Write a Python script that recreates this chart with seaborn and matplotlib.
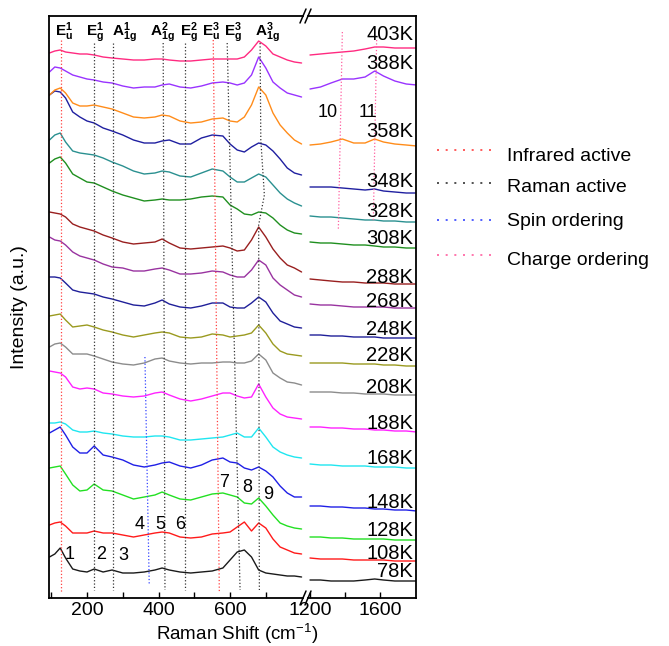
import numpy as np
import pandas as pd
import matplotlib
matplotlib.use("Agg")
import matplotlib.pyplot as plt
import seaborn as sns
from matplotlib.lines import Line2D

sns.set_theme(style="white")
plt.rcParams['font.family'] = ['Liberation Sans', 'DejaVu Sans']
plt.rcParams['mathtext.fontset'] = 'custom'
plt.rcParams['mathtext.rm'] = 'Liberation Sans'
plt.rcParams['mathtext.it'] = 'Liberation Sans:italic'
plt.rcParams['mathtext.bf'] = 'Liberation Sans:bold'
plt.rcParams['text.color'] = 'black'
plt.rcParams['axes.labelcolor'] = 'black'
plt.rcParams['xtick.color'] = 'black'
plt.rcParams['ytick.color'] = 'black'

# ---------------- data ----------------
temps = ['78K', '108K', '128K', '148K', '168K', '188K', '208K', '228K', '248K',
         '268K', '288K', '308K', '328K', '348K', '358K', '388K', '403K']
colors = ['#1a1a1a', '#ff1a1a', '#22e022', '#1f1fe6', '#1fe6f0', '#ff22ff', '#8c8c8c',
          '#9a9a1f', '#1f1f99', '#9933a0', '#991f1f', '#1f8f1f', '#2a9090', '#1f1fa0',
          '#ff8c1a', '#9933ff', '#ff2a80']

shift_low = [95, 110, 125, 140, 160, 180, 200, 220, 245, 270, 300, 330, 360, 390, 410, 430,
             460, 490, 520, 550, 580, 600, 620, 640, 660, 680, 700, 720, 740, 760, 780, 800]
shift_high = [1200, 1260, 1320, 1385, 1450, 1515, 1570, 1620, 1685, 1750, 1810]

low_78 = [89, 92, 98, 88, 77, 75, 74, 77, 74, 76, 73, 73, 74, 76, 78, 76, 74, 73, 74, 75, 78, 86, 94, 96, 89, 76, 73, 72, 71, 70, 70, 69]
low_108 = [121, 123, 124, 120, 113, 113, 113, 115, 113, 113, 111, 109, 111, 113, 114, 113, 109, 108, 109, 112, 113, 114, 119, 124, 115, 123, 118, 107, 99, 96, 93, 92]
low_128 = [178, 179, 180, 172, 161, 155, 156, 162, 156, 155, 151, 147, 149, 151, 154, 151, 147, 146, 149, 152, 153, 151, 149, 143, 142, 148, 140, 131, 123, 120, 118, 117]
low_148 = [213, 216, 219, 211, 199, 193, 193, 200, 191, 189, 186, 181, 179, 181, 183, 184, 180, 178, 181, 186, 188, 184, 183, 178, 176, 179, 175, 169, 160, 153, 149, 149]
low_168 = [223, 223, 224, 222, 216, 214, 214, 215, 213, 212, 210, 209, 209, 210, 210, 209, 206, 206, 207, 208, 209, 211, 213, 209, 209, 218, 209, 199, 194, 191, 189, 188]
low_188 = [275, 274, 273, 269, 259, 257, 258, 257, 253, 252, 250, 249, 250, 253, 254, 251, 247, 245, 247, 250, 253, 253, 250, 248, 249, 262, 249, 238, 232, 229, 228, 227]
low_208 = [299, 302, 303, 299, 292, 292, 292, 290, 287, 284, 282, 281, 283, 287, 288, 285, 283, 282, 283, 283, 284, 284, 283, 283, 285, 292, 286, 273, 268, 264, 263, 261]
low_228 = [330, 331, 332, 326, 319, 320, 321, 319, 316, 314, 311, 309, 311, 313, 314, 313, 309, 308, 309, 312, 311, 309, 310, 311, 313, 321, 313, 302, 295, 292, 291, 290]
low_248 = [369, 369, 368, 363, 356, 354, 353, 352, 349, 347, 344, 341, 340, 343, 346, 342, 339, 338, 340, 343, 343, 339, 338, 338, 343, 349, 344, 333, 325, 322, 319, 318]
low_268 = [409, 406, 405, 401, 394, 390, 388, 386, 382, 379, 378, 375, 375, 377, 378, 376, 372, 372, 373, 375, 374, 371, 369, 369, 376, 386, 381, 368, 361, 356, 351, 349]
low_288 = [434, 433, 432, 429, 422, 419, 417, 415, 411, 408, 404, 402, 403, 404, 407, 403, 398, 397, 398, 399, 400, 398, 395, 396, 406, 419, 409, 397, 388, 381, 378, 374]
low_308 = [483, 487, 489, 483, 472, 468, 464, 463, 459, 455, 451, 448, 445, 446, 447, 446, 446, 447, 449, 450, 449, 441, 437, 432, 431, 434, 433, 428, 421, 416, 413, 412]
low_328 = [506, 511, 513, 504, 495, 493, 492, 491, 488, 484, 480, 475, 472, 473, 475, 474, 470, 469, 473, 477, 475, 469, 464, 464, 468, 472, 469, 461, 453, 447, 443, 440]
low_348 = [551, 555, 554, 548, 534, 529, 525, 523, 518, 515, 511, 506, 503, 503, 505, 506, 502, 502, 508, 511, 510, 502, 496, 494, 499, 503, 501, 495, 487, 478, 473, 471]
low_358 = [551, 556, 558, 553, 543, 540, 540, 541, 539, 537, 533, 529, 528, 529, 531, 530, 525, 523, 524, 527, 528, 525, 524, 529, 541, 559, 551, 533, 521, 513, 506, 502]
low_388 = [574, 579, 578, 575, 571, 569, 567, 566, 564, 563, 560, 558, 559, 559, 561, 562, 559, 558, 560, 563, 564, 563, 561, 563, 571, 589, 578, 564, 558, 553, 551, 549]
low_403 = [593, 595, 596, 594, 593, 592, 592, 591, 589, 588, 587, 586, 586, 587, 587, 586, 585, 585, 586, 587, 587, 587, 587, 589, 596, 605, 600, 592, 589, 586, 584, 583]

high_78 = [66, 66, 65, 65, 65, 66, 67, 66, 65, 65, 65]
high_108 = [88, 87, 87, 87, 86, 86, 86, 86, 85, 85, 85]
high_128 = [109, 109, 108, 108, 107, 107, 107, 107, 106, 106, 106]
high_148 = [140, 140, 139, 139, 138, 138, 137, 137, 136, 136, 135]
high_168 = [182, 181, 181, 180, 180, 180, 179, 179, 179, 178, 178]
high_188 = [219, 219, 218, 218, 217, 217, 216, 216, 215, 215, 214]
high_208 = [254, 254, 254, 253, 253, 252, 252, 252, 251, 251, 251]
high_228 = [283, 283, 283, 283, 282, 282, 282, 281, 281, 280, 280]
high_248 = [311, 311, 310, 310, 309, 309, 309, 308, 308, 308, 308]
high_268 = [342, 341, 341, 340, 339, 339, 339, 339, 338, 338, 338]
high_288 = [367, 366, 365, 364, 364, 363, 363, 363, 362, 362, 362]
high_308 = [404, 403, 403, 402, 401, 401, 400, 399, 399, 398, 398]
high_328 = [430, 429, 429, 428, 427, 426, 426, 425, 425, 424, 424]
high_348 = [459, 459, 459, 458, 457, 456, 457, 455, 454, 453, 453]
high_358 = [501, 502, 504, 507, 503, 503, 507, 504, 502, 501, 500]
high_388 = [557, 559, 563, 567, 567, 569, 575, 570, 565, 562, 561]
high_403 = [591, 592, 593, 594, 595, 597, 599, 599, 598, 598, 598]

# temperature label baselines (same units as intensity)
label_y = [69, 87, 110, 138, 182, 217, 253, 285, 311, 339, 363, 402, 429, 459, 509, 577, 606]

# assigned modes (top label position / line x at top and bottom)
mode_labels = [r'$\mathbf{E_u^1}$', r'$\mathbf{E_g^1}$', r'$\mathbf{A_{1g}^1}$', r'$\mathbf{A_{1g}^2}$',
               r'$\mathbf{E_g^2}$', r'$\mathbf{E_u^3}$', r'$\mathbf{E_g^3}$', r'$\mathbf{A_{1g}^3}$']
mode_label_x = [135, 222, 306, 411, 485, 548, 607, 705]

infrared_top = [126, 553]
infrared_bot = [126, 570]
raman_top = [220, 274, 413, 474, 592]
raman_bot = [220, 274, 418, 474, 628]
a1g3_x = [684, 686, 696, 680, 682]
a1g3_y = [603, 506, 451, 421, 56]
spin_x = [362, 374]
spin_y = [289, 61]
charge_top = [1385, 1581]
charge_bot = [1362, 1562]

peak_names = ['1', '2', '3', '4', '5', '6', '7', '8', '9']
peak_x = [150, 239, 301, 348, 404, 460, 583, 648, 706]
peak_y = [87, 87, 86, 117, 117, 117, 159, 154, 147]
peak_names_hi = ['10', '11']
peak_x_hi = [1303, 1531]
peak_y_hi = [529, 529]

# ---------------- frames ----------------
low_series = [low_78, low_108, low_128, low_148, low_168, low_188, low_208, low_228, low_248,
              low_268, low_288, low_308, low_328, low_348, low_358, low_388, low_403]
high_series = [high_78, high_108, high_128, high_148, high_168, high_188, high_208, high_228,
               high_248, high_268, high_288, high_308, high_328, high_348, high_358, high_388, high_403]

df_low = pd.DataFrame({'shift': np.tile(shift_low, len(temps)),
                       'intensity': np.concatenate(low_series),
                       'T': np.repeat(temps, len(shift_low))})
df_high = pd.DataFrame({'shift': np.tile(shift_high, len(temps)),
                        'intensity': np.concatenate(high_series),
                        'T': np.repeat(temps, len(shift_high))})
palette = dict(zip(temps, colors))

W, H = 669, 646
fig = plt.figure(figsize=(W / 100, H / 100), dpi=100)
ax1 = fig.add_axes([49 / W, 48 / H, 254 / W, 582 / H])
ax2 = fig.add_axes([308 / W, 48 / H, 108 / W, 582 / H])

sns.lineplot(data=df_low, x='shift', y='intensity', hue='T', palette=palette, estimator=None,
             sort=False, legend=False, lw=1.0, ax=ax1)
sns.lineplot(data=df_high, x='shift', y='intensity', hue='T', palette=palette, estimator=None,
             sort=False, legend=False, lw=1.0, ax=ax2)

for ax in (ax1, ax2):
    ax.set_ylim(48, 630)
    ax.set_yticks([])
    ax.set_xlabel('')
    ax.set_ylabel('')
    for sp in ax.spines.values():
        sp.set_color('black')
        sp.set_linewidth(1.3)
    ax.tick_params(axis='x', which='both', direction='in', bottom=True, top=False,
                   length=4, width=1, color='black', labelcolor='black', labelsize=14, pad=3)
ax1.spines['right'].set_visible(False)
ax2.spines['left'].set_visible(False)

ax1.set_xlim(93.7, 804)
ax2.set_xlim(1188.6, 1806)
ax1.set_xticks([200, 400, 600])
ax1.set_xticks([100, 300, 500, 700], minor=True)
ax2.set_xticks([1200, 1600])
ax2.set_xticks([1400], minor=True)

# mode lines
dot = dict(ls=':', lw=0.9)
for xt, xb in zip(infrared_top, infrared_bot):
    ax1.plot([xt, xb], [606, 53], color='#ff4040', **dot)
for xt, xb in zip(raman_top, raman_bot):
    ax1.plot([xt, xb], [603, 56], color='#333333', **dot)
ax1.plot(a1g3_x, a1g3_y, color='#333333', **dot)
ax1.plot(spin_x, spin_y, color='#3344ff', **dot)
ax2.plot([charge_top[0], charge_bot[0]], [614, 416], color='#ff5fa0', **dot)
ax2.plot([charge_top[1], charge_bot[1]], [606, 424], color='#ff5fa0', **dot)

for lab, x in zip(mode_labels, mode_label_x):
    ax1.text(x, 610, lab, ha='center', va='baseline', fontsize=11, color='black')

for t, y in zip(temps, label_y):
    ax2.text(1789, y, t, ha='right', va='baseline', fontsize=14.5, color='black')

for n, x, y in zip(peak_names, peak_x, peak_y):
    ax1.text(x, y, n, ha='center', va='baseline', fontsize=13, color='black')
for n, x, y in zip(peak_names_hi, peak_x_hi, peak_y_hi):
    ax2.text(x, y, n, ha='center', va='baseline', fontsize=13, color='black')

# axis labels
fig.text(156 / W, (H - 640) / H, r'Raman Shift (cm$^{-1}$)', ha='left', va='baseline',
         fontsize=13.5, color='black')
fig.text(20 / W, (H - 307) / H, 'Intensity (a.u.)', rotation=90, ha='center', va='center',
         fontsize=14, color='black')

# axis break marks
def fl(x0, y0, x1, y1, **kw):
    fig.add_artist(Line2D([x0 / W, x1 / W], [(H - y0) / H, (H - y1) / H], **kw))

for yb in (16, 598):
    fl(300, yb + 7, 306, yb - 7, color='black', lw=1.1)
    fl(305, yb + 7, 311, yb - 7, color='black', lw=1.1)

# legend
leg_items = [('Infrared active', '#ff4040', 150, 161), ('Raman active', '#333333', 183, 192),
             ('Spin ordering', '#3344ff', 220, 226), ('Charge ordering', '#ff5fa0', 255, 265)]
for txt, c, yl, yt in leg_items:
    fl(437, yl, 493, yl, color=c, lw=1.2, ls=(0, (1.2, 4)))
    fig.text(507 / W, (H - yt) / H, txt, ha='left', va='baseline', fontsize=14, color='black')

fig.savefig('out.png', dpi=100)
